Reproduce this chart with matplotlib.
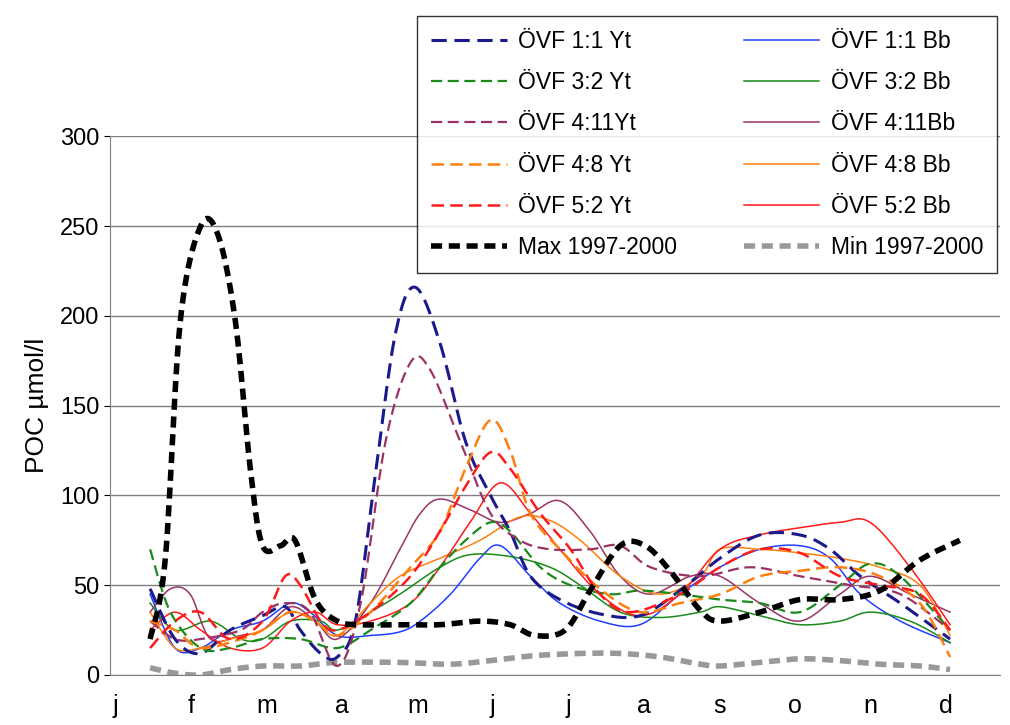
import numpy as np
import matplotlib
matplotlib.use("Agg")
import matplotlib.pyplot as plt

months = ["j", "f", "m", "a", "m", "j", "j", "a", "s", "o", "n", "d"]

# x in month units (0 = january), y in µmol/l
max_x = [0.46, 0.66, 0.86, 1.13, 1.36, 1.59, 1.79, 1.95, 2.19, 2.38, 2.65, 2.94, 3.25, 3.77, 4.30,
         4.83, 5.23, 5.56, 5.96, 6.29, 6.69, 7.02, 7.35, 7.75, 8.01, 8.54, 9.07, 9.60, 10.13, 10.66, 11.19]
max_y = [20, 64, 197, 250, 245, 197, 114, 72, 72, 75, 42, 30, 28, 28, 28,
         30, 28, 22, 25, 47, 72, 72, 58, 36, 30, 35, 42, 42, 47, 64, 75]
min_x = [0.46, 0.79, 1.13, 1.52, 1.95, 2.45, 2.94, 3.77, 4.44, 4.97, 5.36, 5.63, 6.16, 6.69, 7.22,
         7.75, 8.01, 8.54, 9.07, 9.60, 10.13, 10.66, 11.06]
min_y = [4, 1, 0, 3, 5, 5, 7, 7, 6, 8, 10, 11, 12, 12, 10, 6, 5, 7, 9, 8, 6, 5, 3]

yt11_x = [0.46, 0.79, 1.13, 1.52, 1.95, 2.25, 2.45, 2.72, 2.94, 3.18, 3.44, 3.71, 3.97, 4.30, 4.64,
          4.97, 5.23, 5.50, 5.89, 6.42, 6.95, 7.48, 8.01, 8.54, 9.07, 9.47, 9.87, 10.40, 11.06]
yt11_y = [48, 20, 12, 25, 33, 38, 25, 12, 10, 30, 110, 190, 216, 185, 130,
          100, 80, 55, 42, 34, 33, 47, 65, 78, 78, 70, 55, 40, 20]
yt32_x = [0.46, 0.73, 1.13, 1.52, 1.95, 2.45, 2.94, 3.38, 3.91, 4.30, 4.64, 4.97, 5.23, 5.63, 6.03,
          6.56, 6.95, 7.48, 8.01, 8.54, 9.07, 9.60, 10.00, 10.40, 11.06]
yt32_y = [70, 35, 15, 15, 20, 20, 15, 25, 40, 60, 75, 85, 80, 60, 50,
          45, 47, 45, 42, 40, 35, 50, 62, 55, 25]
yt411_x = [0.46, 0.79, 1.13, 1.66, 1.95, 2.25, 2.58, 2.94, 3.25, 3.58, 3.91, 4.17, 4.57, 4.97, 5.36,
           5.76, 6.29, 6.69, 7.09, 7.75, 8.41, 9.07, 9.74, 10.40, 11.06]
yt411_y = [30, 20, 20, 25, 35, 40, 35, 5, 40, 130, 174, 170, 130, 90, 75,
           70, 70, 72, 60, 55, 60, 55, 50, 45, 25]
yt48_x = [0.46, 0.79, 1.13, 1.66, 1.95, 2.32, 2.65, 2.94, 3.38, 3.91, 4.30, 4.64, 4.97, 5.23, 5.50,
          5.89, 6.42, 6.95, 7.48, 8.01, 8.54, 9.07, 9.60, 10.13, 10.66, 11.06]
yt48_y = [30, 25, 15, 20, 25, 35, 30, 22, 35, 60, 80, 115, 142, 125, 90,
          70, 48, 35, 40, 45, 55, 58, 60, 55, 40, 10]
yt52_x = [0.46, 0.79, 1.13, 1.52, 1.95, 2.25, 2.45, 2.72, 2.94, 3.38, 3.91, 4.30, 4.64, 4.97, 5.23,
          5.63, 6.03, 6.42, 6.82, 7.48, 8.01, 8.54, 9.07, 9.60, 10.13, 10.66, 11.06]
yt52_y = [15, 30, 35, 20, 30, 55, 50, 30, 25, 35, 55, 80, 105, 124, 115,
          90, 70, 45, 35, 45, 60, 70, 68, 55, 50, 45, 25]

bb11_x = [0.46, 0.79, 1.13, 1.52, 1.95, 2.32, 2.58, 2.94, 3.38, 3.77, 4.04, 4.44, 4.83, 5.10, 5.50,
          5.89, 6.42, 6.95, 7.48, 8.01, 8.54, 9.07, 9.47, 9.87, 10.40, 11.06]
bb11_y = [45, 15, 15, 25, 30, 40, 35, 22, 22, 24, 30, 45, 65, 72, 55,
          40, 30, 28, 45, 60, 70, 72, 65, 45, 30, 18]
bb32_x = [0.46, 0.79, 1.26, 1.66, 1.95, 2.32, 2.72, 2.94, 3.38, 3.77, 4.30, 4.70, 5.23, 5.76, 6.16,
          6.69, 7.22, 7.75, 8.01, 8.54, 9.07, 9.60, 10.00, 10.53, 11.06]
bb32_y = [40, 25, 30, 20, 20, 30, 30, 25, 35, 45, 60, 67, 66, 60, 50,
          35, 32, 35, 38, 33, 28, 30, 35, 30, 18]
bb411_x = [0.46, 0.73, 0.99, 1.26, 1.66, 1.95, 2.32, 2.65, 2.94, 3.38, 3.77, 4.04, 4.30, 4.70, 5.10,
           5.50, 5.89, 6.29, 6.69, 7.09, 7.62, 8.01, 8.54, 9.07, 9.60, 10.00, 10.53, 11.06]
bb411_y = [35, 48, 45, 20, 22, 25, 38, 30, 20, 40, 70, 90, 98, 92, 85,
           90, 97, 80, 55, 45, 55, 55, 40, 30, 45, 55, 45, 35]
bb48_x = [0.46, 0.79, 1.13, 1.52, 1.95, 2.32, 2.65, 2.94, 3.38, 3.77, 4.30, 4.83, 5.36, 5.76, 6.16,
          6.69, 7.22, 7.75, 8.01, 8.54, 9.07, 9.60, 10.13, 10.66, 11.06]
bb48_y = [35, 15, 15, 20, 25, 35, 30, 22, 40, 55, 65, 75, 88, 86, 75,
          55, 45, 55, 70, 70, 68, 65, 60, 50, 22]
bb52_x = [0.46, 0.79, 1.13, 1.52, 1.95, 2.32, 2.65, 2.94, 3.38, 3.91, 4.30, 4.70, 5.10, 5.50, 5.89,
          6.42, 6.95, 7.48, 8.01, 8.54, 9.07, 9.60, 10.00, 10.53, 11.06]
bb52_y = [25, 35, 25, 15, 15, 30, 35, 28, 30, 40, 60, 85, 107, 90, 70,
          45, 33, 45, 70, 78, 82, 85, 85, 60, 28]


def smooth(x, y, n=12):
    """Catmull-Rom curve through the points, like Excel's smoothed lines."""
    p = np.column_stack([x, y]).astype(float)
    p = np.vstack([p[0], p, p[-1]])
    out = []
    t = np.linspace(0, 1, n, endpoint=False)[:, None]
    for i in range(1, len(p) - 2):
        p0, p1, p2, p3 = p[i - 1], p[i], p[i + 1], p[i + 2]
        out.append(0.5 * (2 * p1 + (-p0 + p2) * t + (2 * p0 - 5 * p1 + 4 * p2 - p3) * t ** 2
                          + (-p0 + 3 * p1 - 3 * p2 + p3) * t ** 3))
    out.append(p[-2][None, :])
    c = np.vstack(out)
    return c[:, 0], c[:, 1]


dash = (0, (5, 2.5))
# legend shows Yt in the left column, Bb in the right column
left = [
    (yt11_x, yt11_y, "ÖVF 1:1 Yt", "#1a1a8c", dash, 2.2),
    (yt32_x, yt32_y, "ÖVF 3:2 Yt", "#1a8a1a", dash, 1.6),
    (yt411_x, yt411_y, "ÖVF 4:11Yt", "#993366", dash, 1.6),
    (yt48_x, yt48_y, "ÖVF 4:8 Yt", "#ff7f0e", dash, 1.8),
    (yt52_x, yt52_y, "ÖVF 5:2 Yt", "#ff1a1a", dash, 1.8),
    (max_x, max_y, "Max 1997-2000", "black", (0, (2, 1.2)), 4.0),
]
right = [
    (bb11_x, bb11_y, "ÖVF 1:1 Bb", "#1f3fff", "-", 1.1),
    (bb32_x, bb32_y, "ÖVF 3:2 Bb", "#1a8a1a", "-", 1.1),
    (bb411_x, bb411_y, "ÖVF 4:11Bb", "#993366", "-", 1.1),
    (bb48_x, bb48_y, "ÖVF 4:8 Bb", "#ff7f0e", "-", 1.1),
    (bb52_x, bb52_y, "ÖVF 5:2 Bb", "#ff1a1a", "-", 1.1),
    (min_x, min_y, "Min 1997-2000", "#999999", (0, (2, 1.2)), 4.0),
]

plt.rcParams["font.family"] = ["Liberation Sans", "DejaVu Sans"]
fig = plt.figure(figsize=(10.1, 7.25), dpi=100)
ax = fig.add_axes([0.109, 0.069, 0.881, 0.743])

for x, y, label, color, ls, lw in right + left:
    sx, sy = smooth(x, y)
    ax.plot(sx, sy, color=color, ls=ls, lw=lw, label=label)
h = {l.get_label(): l for l in ax.get_lines()}
handles = [h[s[2]] for s in left + right]

ax.set_xlim(-0.07, 11.72)
ax.set_ylim(0, 300)
ax.set_yticks(range(0, 301, 50))
ax.set_xticks(range(12))
ax.set_xticklabels(months)
ax.tick_params(axis="x", length=0, labelsize=18, pad=14)
ax.tick_params(axis="y", labelsize=17, length=4)
ax.grid(axis="y", color="#808080", lw=1)
for s in ("top", "right"):
    ax.spines[s].set_visible(False)
ax.spines["left"].set_color("#808080")
ax.spines["bottom"].set_color("#808080")
ax.set_ylabel("POC µmol/l", fontsize=19, labelpad=8)

leg = fig.legend(handles=handles, ncol=2, loc="upper left", bbox_to_anchor=(0.402, 0.994),
                 fontsize=16.5, frameon=True, fancybox=False, edgecolor="black",
                 handlelength=3.3, handletextpad=0.5, columnspacing=2.9,
                 labelspacing=0.8, borderpad=0.6)
leg.get_frame().set_linewidth(1.0)

fig.savefig("out.png", dpi=100)
